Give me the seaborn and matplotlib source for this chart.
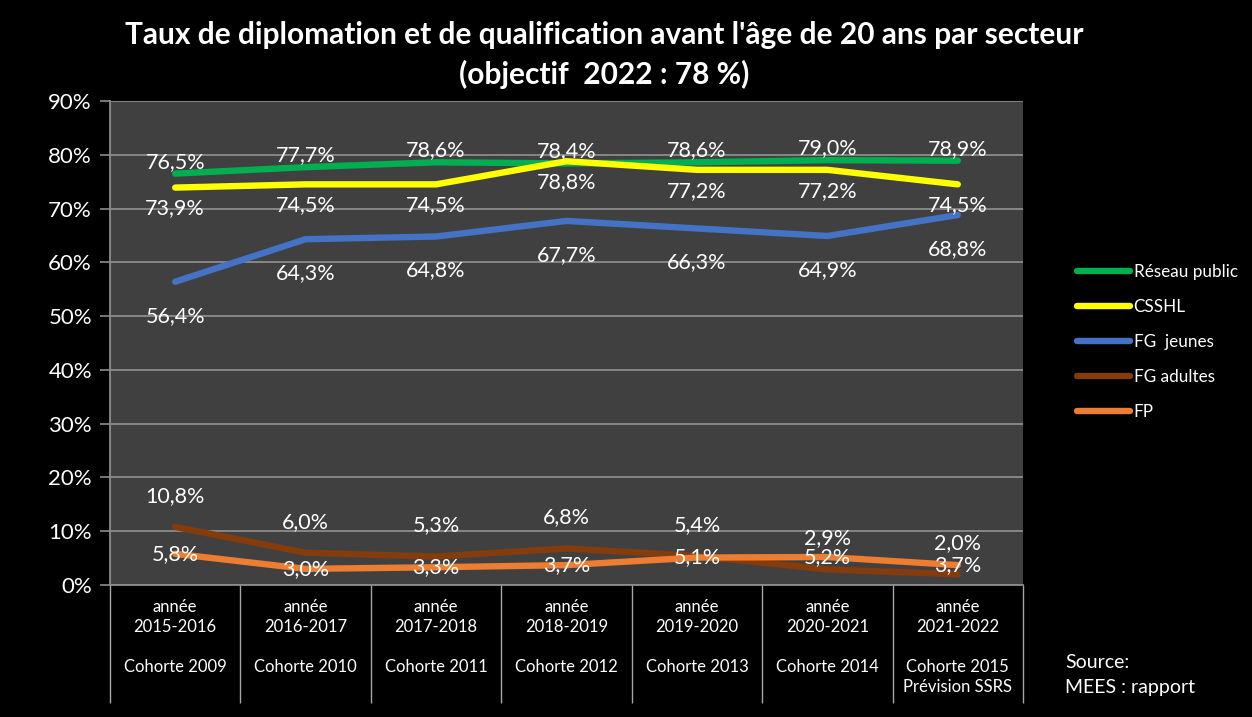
import matplotlib
matplotlib.use('Agg')
import matplotlib.pyplot as plt
import matplotlib.transforms as mtransforms
from matplotlib.ticker import FuncFormatter, FixedLocator
import seaborn as sns
import pandas as pd

annees = ['2015-2016', '2016-2017', '2017-2018', '2018-2019', '2019-2020', '2020-2021', '2021-2022']
cohortes = ['Cohorte 2009', 'Cohorte 2010', 'Cohorte 2011', 'Cohorte 2012',
            'Cohorte 2013', 'Cohorte 2014', 'Cohorte 2015\nPrévision SSRS']
secteurs = ['Réseau public', 'CSSHL', 'FG  jeunes', 'FG adultes', 'FP']

reseau_public = [76.5, 77.7, 78.6, 78.4, 78.6, 79.0, 78.9]
csshl = [73.9, 74.5, 74.5, 78.8, 77.2, 77.2, 74.5]
fg_jeunes = [56.4, 64.3, 64.8, 67.7, 66.3, 64.9, 68.8]
fg_adultes = [10.8, 6.0, 5.3, 6.8, 5.4, 2.9, 2.0]
fp = [5.8, 3.0, 3.3, 3.7, 5.1, 5.2, 3.7]

couleurs = ['#00B050', '#FFFF00', '#4472C4', '#843C0C', '#ED7D31']
# decalage vertical des etiquettes (pixels, vers le bas)
decalages = [-12, 21, 34, -31, 0]

series = [reseau_public, csshl, fg_jeunes, fg_adultes, fp]
rows = []
for nom, vals in zip(secteurs, series):
    for i, v in enumerate(vals):
        rows.append([i, v, nom])
df = pd.DataFrame(rows, columns=['annee', 'taux', 'secteur'])

sns.set_style('dark')
plt.rcParams['font.family'] = ['Lato', 'DejaVu Sans']

fig = plt.figure(figsize=(12.52, 7.17), dpi=100, facecolor='black')
ax = fig.add_axes([110 / 1252, 1 - 585 / 717, 913 / 1252, 484 / 717])
ax.set_facecolor('#404040')

sns.lineplot(data=df, x='annee', y='taux', hue='secteur', hue_order=secteurs,
             palette=couleurs, linewidth=4.6, solid_capstyle='round', ax=ax)

for nom, vals, d in zip(secteurs, series, decalages):
    for i, v in enumerate(vals):
        ax.annotate(('%.1f%%' % v).replace('.', ','), (i, v), xytext=(0, -d),
                    textcoords='offset pixels', ha='center', va='center',
                    color='white', fontsize=15.5)

ax.set_xlim(-0.5, 6.5)
ax.set_ylim(0, 90)
ax.yaxis.set_major_locator(FixedLocator(range(0, 91, 10)))
ax.yaxis.set_major_formatter(FuncFormatter(lambda v, p: '%d%%' % v))
ax.yaxis.grid(True, color='#8c8c8c', lw=1.3)
ax.xaxis.grid(False)
ax.set_axisbelow(True)
ax.tick_params(axis='y', colors='#8c8c8c', labelcolor='white', labelsize=16,
               length=7, width=1.2, pad=6, left=True)

ax.set_xticks(range(7))
ax.set_xticklabels(['année\n' + a for a in annees], color='white', fontsize=12,
                   linespacing=1.35)
ax.tick_params(axis='x', which='major', length=0, pad=10)
ax.set_xticks([i - 0.5 for i in range(8)], minor=True)
ax.tick_params(axis='x', which='minor', length=85, width=1, color='#a6a6a6',
               direction='out', bottom=True)

trans = mtransforms.blended_transform_factory(ax.transData, ax.transAxes)
for i, c in enumerate(cohortes):
    ax.text(i, -0.152, c, transform=trans, ha='center', va='top', color='white',
            fontsize=12, linespacing=1.35)

for s in ['top', 'right']:
    ax.spines[s].set_visible(False)
for s in ['left', 'bottom']:
    ax.spines[s].set_color('#8c8c8c')
    ax.spines[s].set_linewidth(1.3)
ax.set_xlabel('')
ax.set_ylabel('')

handles, labels = ax.get_legend_handles_labels()
ax.legend_.remove()
leg = fig.legend(handles, labels, loc='center left', bbox_to_anchor=(1062 / 1252, 1 - 342 / 717),
                 frameon=False, labelcolor='white', fontsize=12.3, handlelength=3.1,
                 handletextpad=0.2, labelspacing=1.1)

fig.text(604 / 1252, 1 - 55 / 717,
         "Taux de diplomation et de qualification avant l'âge de 20 ans par secteur\n(objectif  2022 : 78 %)",
         ha='center', va='center', color='white', fontsize=21.5, fontweight='bold',
         linespacing=1.45)
fig.text(1065 / 1252, 1 - 662 / 717, 'Source:', ha='left', va='center', color='white', fontsize=14)
fig.text(1065 / 1252, 1 - 688 / 717, 'MEES : rapport', ha='left', va='center', color='white', fontsize=14)

fig.savefig('out.png', dpi=100, facecolor='black')
